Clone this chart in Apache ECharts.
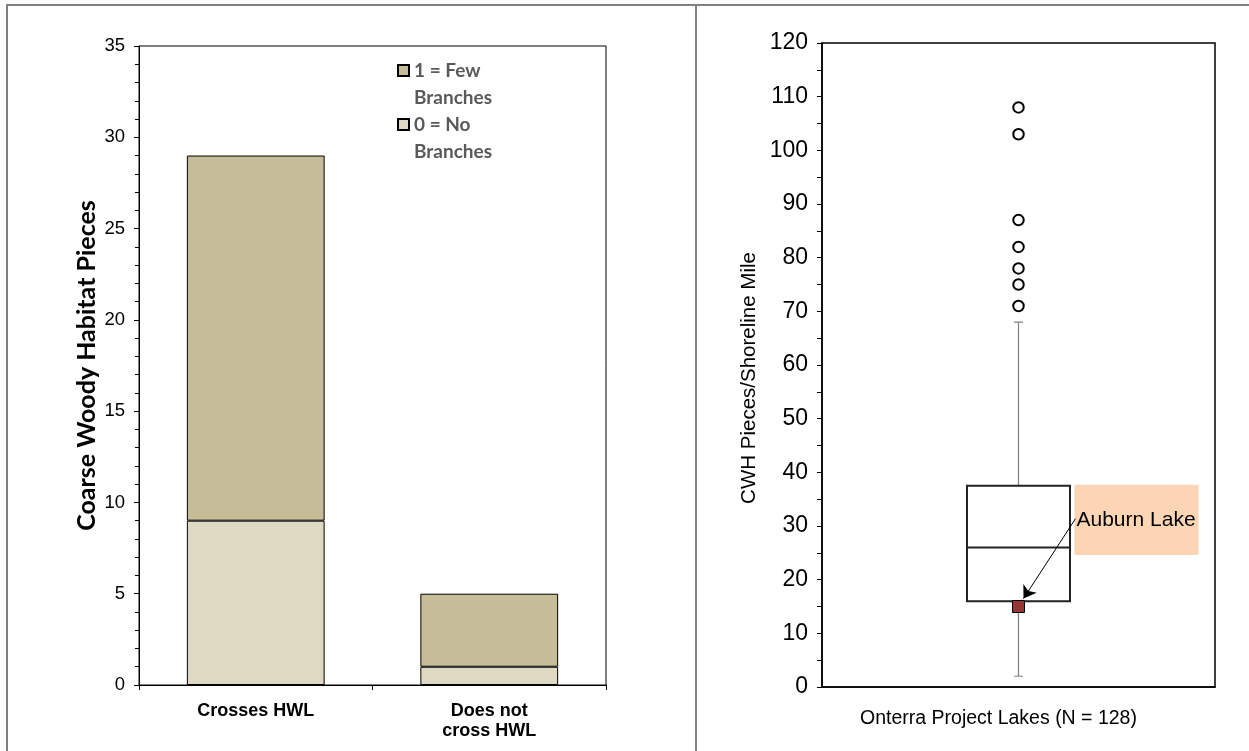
<!DOCTYPE html>
<html><head><meta charset="utf-8">
<script src="https://cdn.jsdelivr.net/npm/echarts@6/dist/echarts.min.js"></script>
<style>html,body{margin:0;padding:0;background:#fff}#c{width:1249px;height:751px}</style>
</head><body><div id="c"></div>
<script>
// ---- Left chart data ----
var barCategories = ['Crosses HWL', 'Does not\ncross HWL'];
var noBranches = [9, 1];
var fewBranches = [20, 4];
var leftTicks = [0, 5, 10, 15, 20, 25, 30, 35];
// ---- Right chart data ----
var boxCategory = ['Onterra Project Lakes (N = 128)'];
var boxStats = [2, 16, 26, 37.5, 68]; // min, Q1, median, Q3, max
var outliers = [108, 103, 87, 82, 78, 75, 71];
var auburnLake = [15];
var rightTicks = [0, 10, 20, 30, 40, 50, 60, 70, 80, 90, 100, 110, 120];
var annotationText = 'Auburn Lake';
var annotationRange = [24.6, 37.7];

var chart = echarts.init(document.getElementById('c'), null, {renderer: 'canvas'});
var ARIAL = '"Liberation Sans", Arial, sans-serif';
var CAL = 'Lato, "Open Sans", sans-serif';

var option = {
  backgroundColor: '#fff',
  animation: false,
  grid: [
    {left: 139, top: 46, width: 467, height: 639, show: true, borderColor: '#000', borderWidth: 1, backgroundColor: 'transparent'},
    {left: 822, top: 43, width: 393, height: 644, show: true, borderColor: '#000', borderWidth: 1.5, backgroundColor: 'transparent'}
  ],
  legend: {
    left: 397, top: 30, orient: 'vertical', itemGap: -27, padding: 0,
    itemWidth: 11, itemHeight: 11, icon: 'rect',
    data: ['1 = Few Branches', '0 = No Branches'],
    formatter: function (n) { var p = n.split(' Branches'); return '\n' + p[0] + '\nBranches'; },
    textStyle: {fontFamily: CAL, fontWeight: 'bold', fontSize: 19, color: '#595959', lineHeight: 27}
  },
  xAxis: [
    {gridIndex: 0, type: 'category', data: barCategories,
      axisLine: {lineStyle: {color: '#000', width: 1}},
      axisTick: {show: true, length: 5, lineStyle: {color: '#000'}},
      axisLabel: {fontFamily: ARIAL, fontWeight: 'bold', fontSize: 18, color: '#000', margin: 16, lineHeight: 20}
    },
    {gridIndex: 1, type: 'category', data: boxCategory,
      axisLine: {lineStyle: {color: '#000', width: 1.5}},
      axisTick: {show: false}, axisLabel: {show: false},
      name: boxCategory[0], nameLocation: 'middle', nameGap: 22,
      nameTextStyle: {fontFamily: ARIAL, fontSize: 19.5, color: '#000', padding: [0, 40, 0, 0]}
    },
    {gridIndex: 1, type: 'category', data: boxCategory, show: false}
  ],
  yAxis: [
    {gridIndex: 0, type: 'value', min: 0, max: 35, interval: 5,
      axisLine: {show: true, lineStyle: {color: '#000', width: 1}},
      axisTick: {show: true, length: 5, lineStyle: {color: '#000'}},
      minorTick: {show: true, splitNumber: 5, length: 4, lineStyle: {color: '#000'}},
      splitLine: {show: false},
      axisLabel: {fontFamily: ARIAL, fontSize: 18.5, color: '#000', margin: 14,
        formatter: function (v) { return leftTicks.indexOf(v) >= 0 ? String(v) : ''; }},
      name: 'Coarse Woody Habitat Pieces', nameLocation: 'middle', nameRotate: 90, nameGap: 40,
      nameTextStyle: {fontFamily: CAL, fontWeight: 'bold', fontSize: 25, color: '#000'}
    },
    {gridIndex: 1, type: 'value', min: 0, max: 120, interval: 10,
      axisLine: {show: true, lineStyle: {color: '#000', width: 1.5}},
      axisTick: {show: true, length: 5, lineStyle: {color: '#000'}},
      minorTick: {show: true, splitNumber: 2, length: 5, lineStyle: {color: '#000'}},
      splitLine: {show: false},
      axisLabel: {fontFamily: ARIAL, fontSize: 23, color: '#000', margin: 14,
        formatter: function (v) { return rightTicks.indexOf(v) >= 0 ? String(v) : ''; }},
      name: 'CWH Pieces/Shoreline Mile', nameLocation: 'middle', nameRotate: 90, nameGap: 62,
      nameTextStyle: {fontFamily: ARIAL, fontSize: 20.5, color: '#000', padding: [0, 26, 0, 0]}
    }
  ],
  series: [
    {name: '0 = No Branches', type: 'bar', stack: 's', xAxisIndex: 0, yAxisIndex: 0,
      data: noBranches, barWidth: '59%',
      itemStyle: {color: '#DDD9C3', borderColor: '#000', borderWidth: 1}},
    {name: '1 = Few Branches', type: 'bar', stack: 's', xAxisIndex: 0, yAxisIndex: 0,
      data: fewBranches, barWidth: '59%',
      itemStyle: {color: '#C4BD97', borderColor: '#000', borderWidth: 1}},
    // whiskers (narrow grey)
    {type: 'boxplot', xAxisIndex: 1, yAxisIndex: 1, data: [boxStats], boxWidth: [9, 9],
      itemStyle: {color: '#fff', borderColor: '#808080', borderWidth: 1.2}},
    // main box
    {type: 'boxplot', xAxisIndex: 2, yAxisIndex: 1,
      data: [[boxStats[1], boxStats[1], boxStats[2], boxStats[3], boxStats[3]]], boxWidth: [103, 103],
      itemStyle: {color: '#fff', borderColor: '#222', borderWidth: 2}},
    {type: 'scatter', xAxisIndex: 1, yAxisIndex: 1,
      data: outliers.map(function (v) { return [0, v]; }),
      symbol: 'emptyCircle', symbolSize: 10.5,
      itemStyle: {color: '#000', borderColor: '#000', borderWidth: 1.3, opacity: 1}},
    {type: 'scatter', xAxisIndex: 1, yAxisIndex: 1, z: 5,
      data: auburnLake.map(function (v) { return [0, v]; }),
      symbol: 'rect', symbolSize: 12,
      itemStyle: {color: '#953735', borderColor: '#000', borderWidth: 1, opacity: 1}}
  ]
};
chart.setOption(option);

// annotation positioned from the axes' own scale
var pTop = chart.convertToPixel({xAxisIndex: 1, yAxisIndex: 1}, [0, annotationRange[1]]);
var pBot = chart.convertToPixel({xAxisIndex: 1, yAxisIndex: 1}, [0, annotationRange[0]]);
var pSq = chart.convertToPixel({xAxisIndex: 1, yAxisIndex: 1}, [0, auburnLake[0]]);
var boxLeft = pSq[0] + 56;
chart.setOption({
  graphic: [
    {type: 'rect', shape: {x: 7, y: 5, width: 1260, height: 800}, z: 100,
      style: {fill: 'none', stroke: '#808080', lineWidth: 2}, silent: true},
    {type: 'line', shape: {x1: 696, y1: 5, x2: 696, y2: 760}, z: 100,
      style: {stroke: '#808080', lineWidth: 2}, silent: true},
    {type: 'rect', shape: {x: boxLeft, y: pTop[1], width: 124, height: pBot[1] - pTop[1]}, z: 1,
      style: {fill: '#FCD5B4'}, silent: true},
    {type: 'text', x: boxLeft + 2, y: pTop[1] + 36, z: 3,
      style: {text: annotationText, fontFamily: ARIAL, fontSize: 21, fill: '#000', verticalAlign: 'middle'}}
  ],
  series: [{}, {}, {}, {}, {}, {
    markLine: {
      silent: true, symbol: ['none', 'arrow'], symbolSize: 12,
      lineStyle: {color: '#000', width: 1, type: 'solid'}, label: {show: false},
      data: [[{x: boxLeft + 1, y: pTop[1] + 34}, {x: pSq[0] + 5, y: pSq[1] - 8}]]
    }
  }]
});
</script></body></html>
